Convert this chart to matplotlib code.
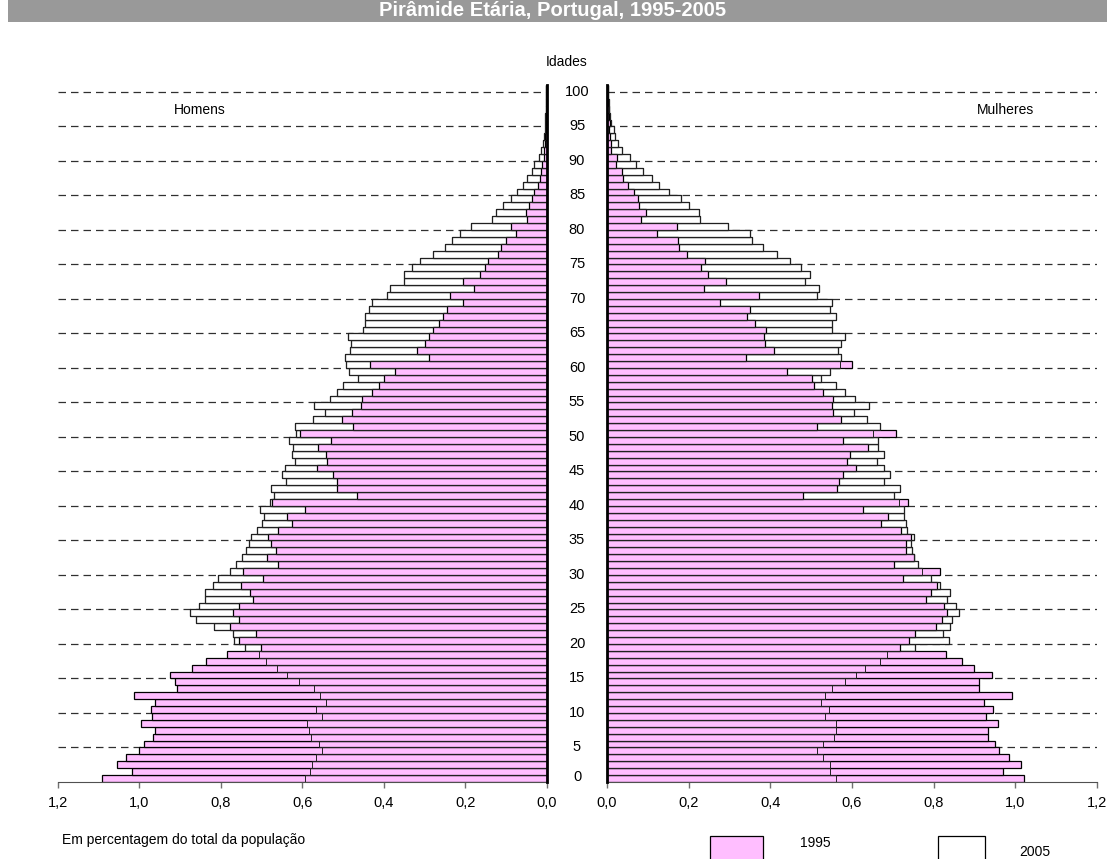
import matplotlib
matplotlib.use('Agg')
import matplotlib.pyplot as plt
from matplotlib.patches import Rectangle
from matplotlib.transforms import blended_transform_factory
import numpy as np

plt.rcParams['font.family'] = ['Liberation Sans', 'DejaVu Sans']

# ── Data (percentage of total population, ages 0..100) ─────────────────────────
ages = list(range(0, 101))

men_1995 = [
    1.091, 1.019, 1.055, 1.032, 1.000, 0.989, 0.967, 0.961, 0.997, 0.969,
    0.971, 0.962, 1.013, 0.909, 0.912, 0.924, 0.870, 0.837, 0.784, 0.701,
    0.756, 0.715, 0.777, 0.756, 0.771, 0.756, 0.720, 0.728, 0.750, 0.696,
    0.746, 0.661, 0.686, 0.665, 0.677, 0.685, 0.661, 0.625, 0.638, 0.593,
    0.674, 0.465, 0.516, 0.515, 0.525, 0.563, 0.539, 0.541, 0.562, 0.530,
    0.605, 0.476, 0.503, 0.477, 0.457, 0.453, 0.429, 0.413, 0.400, 0.373,
    0.435, 0.289, 0.319, 0.300, 0.288, 0.280, 0.265, 0.255, 0.246, 0.205,
    0.238, 0.179, 0.205, 0.165, 0.151, 0.143, 0.120, 0.111, 0.101, 0.076,
    0.088, 0.049, 0.051, 0.043, 0.035, 0.030, 0.022, 0.016, 0.013, 0.011,
    0.007, 0.006, 0.004, 0.003, 0.002, 0.002, 0.001, 0.001, 0.001, 0.0005,
    0.0005,
]
men_2005 = [
    0.593, 0.580, 0.576, 0.567, 0.551, 0.560, 0.579, 0.583, 0.589, 0.551,
    0.566, 0.541, 0.557, 0.572, 0.607, 0.638, 0.663, 0.690, 0.706, 0.741,
    0.767, 0.771, 0.818, 0.861, 0.877, 0.855, 0.838, 0.840, 0.820, 0.808,
    0.777, 0.762, 0.747, 0.739, 0.732, 0.725, 0.712, 0.700, 0.695, 0.705,
    0.679, 0.669, 0.676, 0.639, 0.649, 0.643, 0.617, 0.626, 0.622, 0.632,
    0.616, 0.618, 0.573, 0.544, 0.571, 0.532, 0.514, 0.499, 0.464, 0.485,
    0.493, 0.495, 0.482, 0.481, 0.489, 0.452, 0.445, 0.446, 0.437, 0.428,
    0.391, 0.386, 0.350, 0.351, 0.330, 0.310, 0.280, 0.250, 0.233, 0.214,
    0.186, 0.135, 0.125, 0.107, 0.088, 0.072, 0.059, 0.048, 0.035, 0.030,
    0.020, 0.014, 0.009, 0.007, 0.005, 0.004, 0.003, 0.002, 0.001, 0.001,
    0.001,
]
women_1995 = [
    1.022, 0.969, 1.014, 0.985, 0.959, 0.949, 0.933, 0.932, 0.957, 0.929,
    0.945, 0.923, 0.992, 0.912, 0.911, 0.943, 0.899, 0.869, 0.830, 0.718,
    0.740, 0.754, 0.806, 0.821, 0.832, 0.825, 0.781, 0.793, 0.808, 0.724,
    0.816, 0.704, 0.751, 0.732, 0.732, 0.745, 0.720, 0.671, 0.687, 0.628,
    0.737, 0.480, 0.563, 0.567, 0.578, 0.610, 0.588, 0.594, 0.639, 0.578,
    0.708, 0.514, 0.572, 0.553, 0.550, 0.553, 0.529, 0.506, 0.502, 0.440,
    0.599, 0.341, 0.408, 0.388, 0.385, 0.389, 0.362, 0.343, 0.351, 0.277,
    0.373, 0.237, 0.292, 0.248, 0.231, 0.239, 0.196, 0.177, 0.175, 0.123,
    0.172, 0.083, 0.096, 0.078, 0.076, 0.067, 0.052, 0.038, 0.037, 0.022,
    0.024, 0.009, 0.010, 0.007, 0.006, 0.008, 0.006, 0.005, 0.003, 0.002,
    0.002,
]
women_2005 = [
    0.561, 0.547, 0.547, 0.529, 0.514, 0.528, 0.556, 0.561, 0.562, 0.534,
    0.544, 0.524, 0.534, 0.551, 0.582, 0.610, 0.632, 0.669, 0.686, 0.754,
    0.837, 0.823, 0.839, 0.844, 0.862, 0.854, 0.832, 0.840, 0.816, 0.794,
    0.771, 0.761, 0.753, 0.746, 0.745, 0.753, 0.735, 0.733, 0.727, 0.727,
    0.714, 0.704, 0.717, 0.678, 0.694, 0.678, 0.661, 0.678, 0.663, 0.663,
    0.651, 0.669, 0.636, 0.604, 0.641, 0.607, 0.583, 0.562, 0.523, 0.547,
    0.570, 0.572, 0.565, 0.574, 0.584, 0.551, 0.552, 0.562, 0.547, 0.550,
    0.515, 0.518, 0.486, 0.496, 0.474, 0.447, 0.416, 0.383, 0.356, 0.351,
    0.296, 0.227, 0.225, 0.202, 0.181, 0.151, 0.127, 0.110, 0.088, 0.071,
    0.056, 0.036, 0.027, 0.020, 0.016, 0.010, 0.008, 0.006, 0.004, 0.003,
    0.002,
]

age_labels = list(range(0, 101, 5))
x_ticks = [0.0, 0.2, 0.4, 0.6, 0.8, 1.0, 1.2]
x_ticklabels = ['0,0', '0,2', '0,4', '0,6', '0,8', '1,0', '1,2']

# ── Style ──────────────────────────────────────────────────────────────────────
PINK = '#FFBEFF'
W, H = 1107, 859


def px_axes(x0, x1, y_top, y_bot):
    return [x0 / W, 1 - y_bot / H, (x1 - x0) / W, (y_bot - y_top) / H]


def draw_side(ax, v95, v05):
    # gridlines behind, 2005 filled white, 1995 pink on top, 2005 outline last
    for a in age_labels[1:]:
        ax.axhline(a - 0.5, color='#303030', lw=0.9, ls=(0, (6, 4)), zorder=0)
    ax.barh(ages, v05, height=1.0, color='white', edgecolor='black',
            linewidth=0.9, zorder=1)
    ax.barh(ages, v95, height=1.0, color=PINK, edgecolor='black',
            linewidth=0.9, zorder=2)
    ax.barh(ages, v05, height=1.0, facecolor='none', edgecolor='#222222',
            linewidth=0.7, zorder=3)
    ax.set_ylim(-0.5, 100.5)
    ax.set_yticks([])
    ax.set_xticks(x_ticks)
    ax.set_xticklabels(x_ticklabels, fontsize=10.5)
    ax.tick_params(axis='x', direction='out', length=4, width=1,
                   color='#707070', pad=6)
    ax.spines['top'].set_visible(False)
    ax.spines['bottom'].set_color('#505050')


fig = plt.figure(figsize=(W / 100, H / 100), dpi=100)

ax_l = fig.add_axes(px_axes(58, 546.7, 85, 782))
draw_side(ax_l, men_1995, men_2005)
ax_l.set_xlim(1.2, 0)
ax_l.spines['left'].set_visible(False)
ax_l.spines['right'].set_linewidth(2)
ax_l.spines['right'].set_zorder(5)

ax_r = fig.add_axes(px_axes(607, 1097, 85, 782))
draw_side(ax_r, women_1995, women_2005)
ax_r.set_xlim(0, 1.2)
ax_r.spines['right'].set_visible(False)
ax_r.spines['left'].set_linewidth(2)
ax_r.spines['left'].set_zorder(5)

# age labels in the gap between the two halves
tr = blended_transform_factory(fig.transFigure, ax_r.transData)
for a in age_labels:
    y = 0.2 if a == 0 else a - 0.5
    fig.text(577 / W, y, str(a), transform=tr, ha='center', va='center',
             fontsize=10.5)

# title band
fig.patches.append(Rectangle((8 / W, 1 - 22 / H), 1 - 8 / W, 22 / H,
                             transform=fig.transFigure, facecolor='#999999',
                             edgecolor='none'))
fig.text(553 / W, 1 - 11 / H, 'Pirâmide Etária, Portugal, 1995-2005',
         color='white', fontsize=14.5, fontweight='bold',
         ha='center', va='center')

fig.text(567 / W, 1 - 62 / H, 'Idades', ha='center', va='center', fontsize=10)
fig.text(200 / W, 1 - 110 / H, 'Homens', ha='center', va='center', fontsize=10)
fig.text(1005 / W, 1 - 110 / H, 'Mulheres', ha='center', va='center', fontsize=10)
fig.text(62 / W, 1 - 840 / H, 'Em percentagem do total da população',
         ha='left', va='center', fontsize=10)

# legend boxes
fig.patches.append(Rectangle((710 / W, 1 - 860 / H), 53 / W, 24 / H,
                             transform=fig.transFigure, facecolor=PINK,
                             edgecolor='black', linewidth=0.9))
fig.text(815 / W, 1 - 843 / H, '1995', ha='center', va='center', fontsize=10)
fig.patches.append(Rectangle((938 / W, 1 - 860 / H), 47 / W, 24 / H,
                             transform=fig.transFigure, facecolor='white',
                             edgecolor='black', linewidth=0.9))
fig.text(1035 / W, 1 - 852 / H, '2005', ha='center', va='center', fontsize=10)

fig.savefig('out.png', dpi=100)
